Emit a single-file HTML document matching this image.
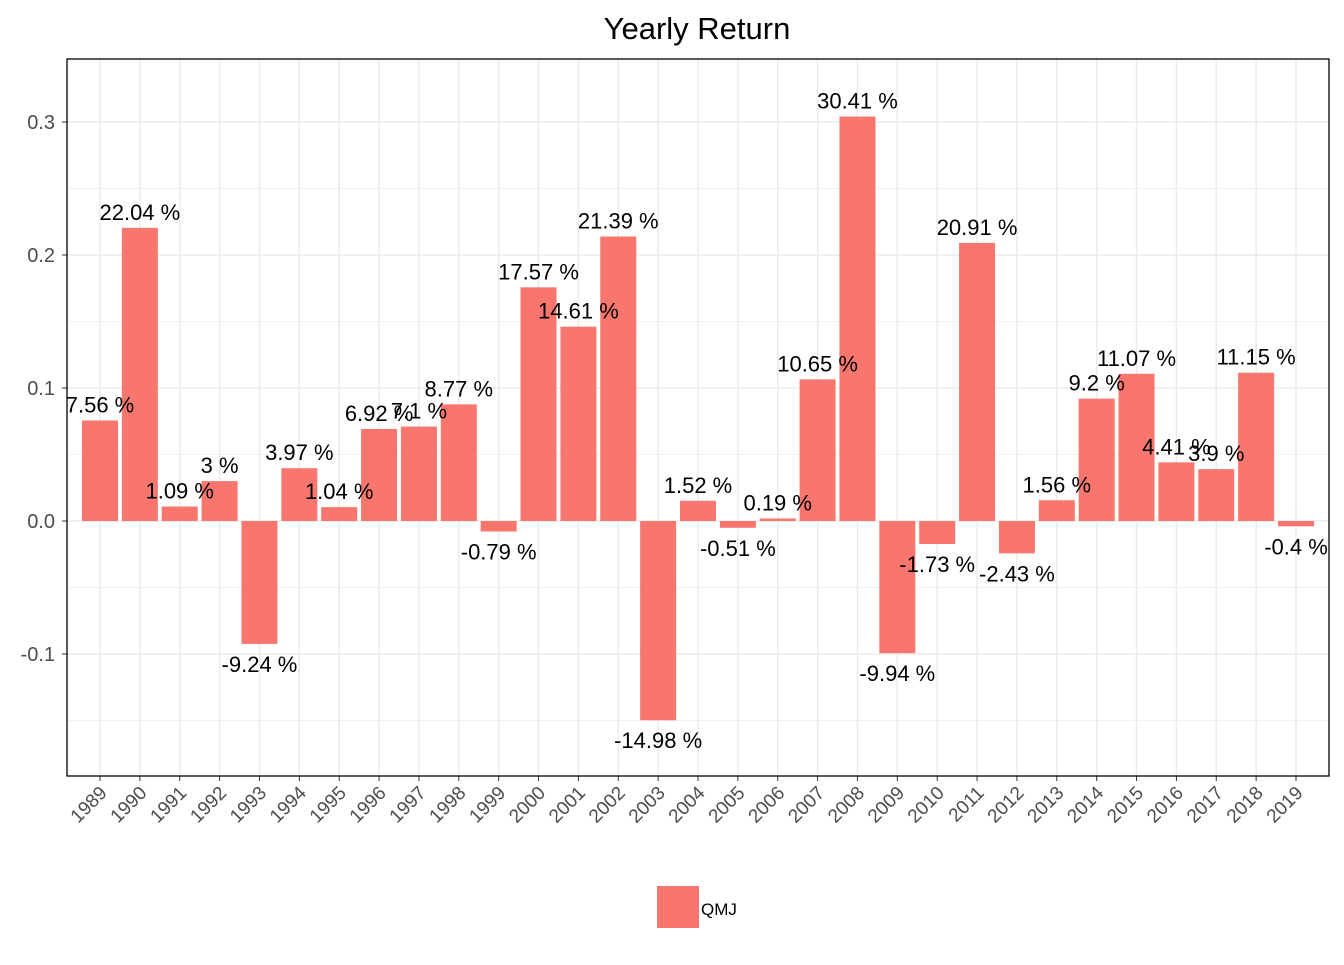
<!DOCTYPE html>
<html><head><meta charset="utf-8"><style>
body{margin:0;background:#fff;font-family:"Liberation Sans",Arial,sans-serif}
svg text{font-family:"Liberation Sans",Arial,sans-serif}
</style></head><body>
<svg id="chart" width="1344" height="960" xmlns="http://www.w3.org/2000/svg">
<text x="697" y="39" text-anchor="middle" font-size="31" fill="#000">Yearly Return</text>
<g id="grid"></g><g id="bars"></g><g id="labels"></g><g id="axes"></g>
<rect x="657" y="886" width="42" height="42" fill="#F8766D"/>
<text x="701" y="915" font-size="17" fill="#000">QMJ</text>
</svg>
<script>
const years=[1989,1990,1991,1992,1993,1994,1995,1996,1997,1998,1999,2000,2001,2002,2003,2004,2005,2006,2007,2008,2009,2010,2011,2012,2013,2014,2015,2016,2017,2018,2019];
const returns=[7.56,22.04,1.09,3,-9.24,3.97,1.04,6.92,7.1,8.77,-0.79,17.57,14.61,21.39,-14.98,1.52,-0.51,0.19,10.65,30.41,-9.94,-1.73,20.91,-2.43,1.56,9.2,11.07,4.41,3.9,11.15,-0.4];
const yTicks=[-0.1,0,0.1,0.2,0.3];
const yTickLabels=["-0.1","0.0","0.1","0.2","0.3"];
const NS="http://www.w3.org/2000/svg";
const L=67,R=1329,T=59,B=776;
const y=v=>521-v*1330;
const x=i=>100+i*(1196/30);
function mk(tag,attrs,parent){const e=document.createElementNS(NS,tag);for(const k in attrs)e.setAttribute(k,attrs[k]);document.getElementById(parent).appendChild(e);return e;}
for(let v=-0.15;v<=0.35;v+=0.1){const yy=y(v);if(yy>T&&yy<B){const g=mk('line',{x1:L,x2:R,y1:yy,y2:yy,stroke:'#f2f2f2','stroke-width':1},'grid');

}}
yTicks.forEach((v,k)=>{const g=mk('line',{x1:L,x2:R,y1:y(v),y2:y(v),stroke:'#ebebeb','stroke-width':1.5},'grid');


mk('line',{x1:L-5,x2:L,y1:y(v),y2:y(v),stroke:'#333'},'axes');
const t=mk('text',{x:L-12,y:y(v)+7,'text-anchor':'end','font-size':20,fill:'#4d4d4d'},'axes');t.textContent=yTickLabels[k];

});
years.forEach((yr,i)=>{const g=mk('line',{x1:x(i),x2:x(i),y1:T,y2:B,stroke:'#ebebeb','stroke-width':1.5},'grid');


mk('line',{x1:x(i),x2:x(i),y1:B,y2:B+5,stroke:'#333'},'axes');
const ax=x(i)+8,ay=B+18;
const t=mk('text',{x:ax,y:ay,'text-anchor':'end','font-size':19,fill:'#4d4d4d',transform:`rotate(-45 ${ax} ${ay})`},'axes');t.textContent=yr;


const v=returns[i]/100;const y0=y(0),y1=y(v);
const b=mk('rect',{x:x(i)-18,width:36,y:Math.min(y0,y1),height:Math.abs(y1-y0),fill:'#F8766D'},'bars');


const ly=v>=0?y1-16+8:y1+20+8;
const lt=mk('text',{x:x(i),y:ly,'text-anchor':'middle','font-size':22,fill:'#000'},'labels');lt.textContent=returns[i]+' %';

});
const f=mk('rect',{x:L,y:T,width:R-L,height:B-T,fill:'none',stroke:'#000','stroke-width':1.3},'axes');


</script>
</body></html>
